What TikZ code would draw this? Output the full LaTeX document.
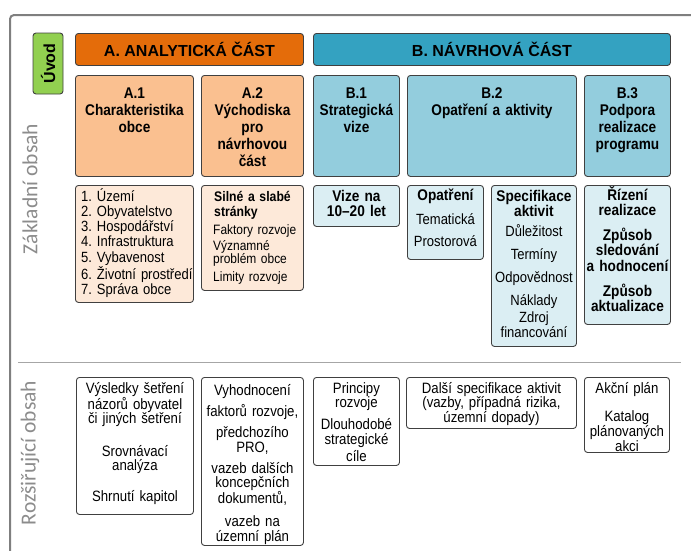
\documentclass[tikz,border=0pt]{standalone}
\usepackage{fontspec}
\setmainfont{Liberation Sans}[FakeStretch=0.88]
\newfontfamily\widesf{Liberation Sans}
\newfontfamily\sidesf{Carlito}
\frenchspacing

\newlength{\du}
\setlength{\du}{1pt}

\definecolor{uvodgreen}{HTML}{92D050}
\definecolor{anaorange}{HTML}{E46C0A}
\definecolor{navteal}{HTML}{34A2C1}
\definecolor{anabox}{HTML}{FAC090}
\definecolor{navbox}{HTML}{93CDDD}
\definecolor{analist}{HTML}{FDE9D9}
\definecolor{navlist}{HTML}{DBEEF3}
\definecolor{boxline}{HTML}{404040}
\definecolor{framegray}{HTML}{7F7F7F}
\definecolor{sepgray}{HTML}{A6A6A6}
\definecolor{sidegray}{HTML}{8C8C8C}

\tikzset{
  cell/.style={draw=boxline, line width=0.9\du, rounded corners=3\du, anchor=north west, inner sep=0pt},
  headcell/.style={cell, font=\widesf\bfseries\fontsize{16}{18}\selectfont},
  txt/.style={anchor=base, inner sep=0pt, text width=#1, align=center},
  txt/.default=100\du,
  ttl/.style={txt=#1, font=\bfseries\fontsize{15.5}{17}\selectfont},
  ttl/.default=100\du,
  blist/.style={txt=#1, font=\bfseries\fontsize{15.5}{15.3}\selectfont},
  blist/.default=100\du,
  rlist/.style={txt=#1, font=\fontsize{14.8}{15.3}\selectfont},
  rlist/.default=100\du,
  ext/.style={txt=#1, font=\fontsize{15}{14.5}\selectfont},
  ext/.default=100\du,
  side/.style={rotate=90, inner sep=0pt, text=sidegray, font=\sidesf\fontsize{21.5}{23}\selectfont}
}

\begin{document}
\begin{tikzpicture}[x=1\du, y=-1\du]
\useasboundingbox (0,0) rectangle (691,550);

% frame and separator
\draw[framegray, line width=2\du, rounded corners=4\du] (10,552) -- (10,15) -- (693,15);
\draw[sepgray, line width=1\du] (18,362) -- (681,362);

\node[side] (zakladni) at (30,189) {Základní obsah};
\node[side] (rozsirujici) at (30,453) {Rozšiřující obsah};

% headers
\node[cell, anchor=center, rotate=90, fill=uvodgreen, minimum width=61\du, minimum height=30\du,
  font=\widesf\bfseries\fontsize{16}{16}\selectfont] (uvod) at (48,63.5) {Úvod};
\node[headcell, fill=anaorange, minimum width=228\du, minimum height=32\du] (ahead) at (75,33) {A. ANALYTICKÁ ČÁST};
\node[headcell, fill=navteal, minimum width=357\du, minimum height=32\du] (bhead) at (313,33) {B. NÁVRHOVÁ ČÁST};

% chapters
\node[cell, fill=anabox, minimum width=118\du, minimum height=101\du] (a1) at (75,75) {};
\node[ttl] (a1-t) at ([yshift=-23\du]a1.north) {A.1\\Charakteristika\\obce};
\node[cell, fill=anabox, minimum width=102\du, minimum height=101\du] (a2) at (201,75) {};
\node[ttl] (a2-t) at ([yshift=-23\du]a2.north) {A.2\\Východiska\\pro\\návrhovou\\část};
\node[cell, fill=navbox, minimum width=86\du, minimum height=101\du] (b1) at (313,75) {};
\node[ttl] (b1-t) at ([yshift=-23\du]b1.north) {B.1\\Strategická\\vize};
\node[cell, fill=navbox, minimum width=169\du, minimum height=101\du] (b2) at (407,75) {};
\node[ttl=160\du] (b2-t) at ([yshift=-23\du]b2.north) {B.2\\Opatření a aktivity};
\node[cell, fill=navbox, minimum width=86\du, minimum height=101\du] (b3) at (584,75) {};
\node[ttl] (b3-t) at ([yshift=-23\du]b3.north) {B.3\\Podpora\\realizace\\programu};

% basic content
\node[cell, fill=analist, minimum width=118\du, minimum height=117\du] (a1z) at (75,185) {};
\node[rlist=115\du, anchor=base west, align=left] (a1z-t) at ([xshift=6\du, yshift=-16\du]a1z.north west)
  {1. Území\\2. Obyvatelstvo\\3. Hospodářství\\4. Infrastruktura\\5. Vybavenost\\6. Životní prostředí\\7. Správa obce};
\node[cell, fill=analist, minimum width=102\du, minimum height=105\du] (a2z) at (201,185) {};
\node[txt=88\du, anchor=base west, align=left, font=\bfseries\fontsize{13.9}{15}\selectfont] (a2z-t)
  at ([xshift=13\du, yshift=-16\du]a2z.north west) {Silné a slabé\\stránky};
\node[txt=88\du, anchor=base west, align=left, font=\fontsize{13.6}{13.5}\selectfont] (a2z-i)
  at ([xshift=12\du, yshift=-49\du]a2z.north west) {Faktory rozvoje\\[2.5\du]Významné\\problém obce\\[4.5\du]Limity rozvoje};
\node[cell, fill=navlist, minimum width=86\du, minimum height=41\du] (b1z) at (313,185) {};
\node[blist] (b1z-t) at ([yshift=-16\du]b1z.north) {Vize na\\10–20 let};
\node[cell, fill=navlist, minimum width=76\du, minimum height=74\du] (opz) at (407,185) {};
\node[blist] (opz-t) at ([yshift=-15\du]opz.north) {Opatření};
\node[rlist] (opz-i) at ([yshift=-39\du]opz.north) {Tematická\\[7\du]Prostorová};
\node[cell, fill=navlist, minimum width=85\du, minimum height=161\du] (spz) at (491,185) {};
\node[blist] (spz-t) at ([yshift=-16\du]spz.north) {Specifikace\\aktivit};
\node[rlist] (spz-i) at ([yshift=-51\du]spz.north)
  {Důležitost\\[8\du]Termíny\\[8\du]Odpovědnost\\[8\du]Náklady\\[1\du]Zdroj\\financování};
\node[cell, fill=navlist, minimum width=86\du, minimum height=139\du] (b3z) at (584,185) {};
\node[blist] (b3z-t) at ([yshift=-15\du]b3z.north)
  {Řízení\\realizace\\[10\du]Způsob\\sledování\\a hodnocení\\[10\du]Způsob\\aktualizace};

% extended content
\node[cell, fill=white, minimum width=117\du, minimum height=137\du] (r1) at (76,377) {};
\node[ext=115\du] (r1-t) at ([yshift=-16\du]r1.north)
  {Výsledky šetření\\názorů obyvatel\\či jiných šetření\\[18\du]Srovnávací\\analýza\\[16\du]Shrnutí kapitol};
\node[cell, fill=white, minimum width=102\du, minimum height=168\du] (r2) at (201,377) {};
\node[ext] (r2-t) at ([yshift=-18\du]r2.north)
  {Vyhodnocení\\[5.5\du]faktorů rozvoje,\\[6.5\du]předchozího\\PRO,\\[6.5\du]vazeb dalších\\koncepčních\\dokumentů,\\[8.5\du]vazeb na\\územní plán};
\node[cell, fill=white, minimum width=86\du, minimum height=88\du] (r3) at (313,377) {};
\node[ext] (r3-t) at ([yshift=-16\du]r3.north) {Principy\\rozvoje\\[7.5\du]Dlouhodobé\\strategické\\[2.5\du]cíle};
\node[cell, fill=white, minimum width=170\du, minimum height=51\du] (r4) at (406,377) {};
\node[ext=165\du] (r4-t) at ([yshift=-16\du]r4.north) {Další specifikace aktivit\\(vazby, případná rizika,\\územní dopady)};
\node[cell, fill=white, minimum width=85\du, minimum height=75\du] (r5) at (584,377) {};
\node[ext, font=\fontsize{15}{13.5}\selectfont] (r5-t) at ([yshift=-16\du]r5.north) {Akční plán\\[13.5\du]Katalog\\plánovaných\\akci};
\end{tikzpicture}
\end{document}
